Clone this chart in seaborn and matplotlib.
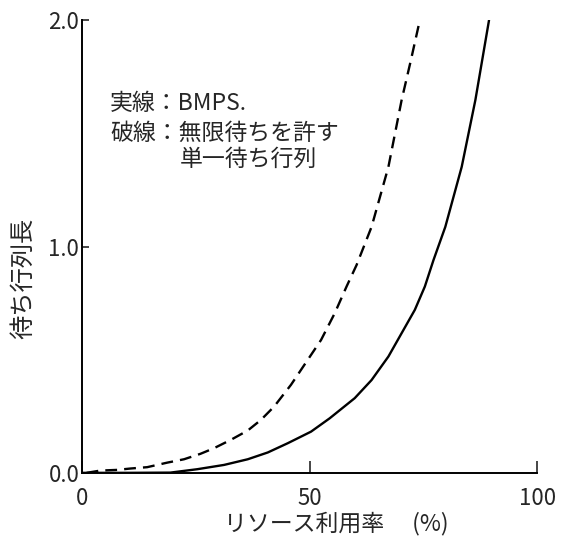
"""
Queue length vs resource utilisation: BMPS vs single infinite queue
"""

import pandas as pd
import matplotlib
matplotlib.use("Agg")
import matplotlib.pyplot as plt
import seaborn as sns

# solid line: BMPS
bmps_util = [0, 10, 19.4, 25.3, 31.2, 36.4, 40.8, 45.2, 50.3, 54.4, 59.9, 63.6, 67.3,
             70.2, 73.1, 75.3, 77.2, 79.8, 83.4, 86.4, 89.4]
bmps_len = [0, 0, 0.001, 0.016, 0.035, 0.06, 0.09, 0.131, 0.182, 0.241, 0.33, 0.41, 0.514,
            0.617, 0.72, 0.823, 0.94, 1.087, 1.352, 1.647, 2.0]

# dashed line: single queue with unlimited waiting
single_util = [1, 4, 7.7, 10.6, 14.3, 18.7, 22.4, 26, 29, 32.7, 36.4, 39.3, 42.2, 45.9,
               48.1, 52.5, 55.5, 58.1, 60.3, 63.6, 67.3, 70.2, 72.2, 74.2]
single_len = [0, 0.01, 0.013, 0.019, 0.025, 0.045, 0.06, 0.084, 0.109, 0.146, 0.187, 0.234,
              0.293, 0.389, 0.455, 0.587, 0.705, 0.823, 0.918, 1.087, 1.352, 1.647, 1.82, 2.0]

x_ticks = [0, 50, 100]
y_ticks = [0.0, 1.0, 2.0]
y_tick_labels = ["0.0", "1.0", "2.0"]

legend_lines = ['実線：BMPS.', '破線：無限待ちを許す']
legend_cont = '単一待ち行列'

sns.set_style("ticks")
plt.rcParams['font.family'] = ['Noto Sans CJK JP', 'DejaVu Sans']

fig = plt.figure(figsize=(5.62, 5.46), dpi=100)
ax = fig.add_axes([0.146, 0.134, 0.81, 0.829])

df_bmps = pd.DataFrame({'util': bmps_util, 'len': bmps_len})
df_single = pd.DataFrame({'util': single_util, 'len': single_len})

sns.lineplot(data=df_bmps, x='util', y='len', ax=ax, color='black', linewidth=1.7, sort=False)
sns.lineplot(data=df_single, x='util', y='len', ax=ax, color='black', linewidth=1.7,
             linestyle=(0, (5, 3)), sort=False)

ax.set_xlim(0, 100)
ax.set_ylim(0, 2.0)
ax.set_xticks(x_ticks)
ax.set_yticks(y_ticks)
ax.set_yticklabels(y_tick_labels)
ax.tick_params(axis='x', direction='in', length=9, width=1.2, labelsize=16, pad=10)
ax.tick_params(axis='y', direction='in', length=5, width=1.2, labelsize=16, pad=2)

for side in ['top', 'right']:
    ax.spines[side].set_visible(False)
for side in ['left', 'bottom']:
    ax.spines[side].set_linewidth(1.4)
    ax.spines[side].set_color('black')

ax.set_xlabel('リソース利用率　 (%)', fontsize=16.5)
ax.xaxis.set_label_coords(0.558, -0.086)
ax.set_ylabel('待ち行列長', fontsize=17.5)
ax.yaxis.set_label_coords(-0.1, 0.43)

ax.text(6.2, 1.634, legend_lines[0], fontsize=16.5, va='center', ha='left')
ax.text(6.2, 1.50, legend_lines[1], fontsize=16.5, va='center', ha='left')
ax.text(21.5, 1.386, legend_cont, fontsize=16.5, va='center', ha='left')

fig.savefig('out.png', dpi=100)
plt.close(fig)
